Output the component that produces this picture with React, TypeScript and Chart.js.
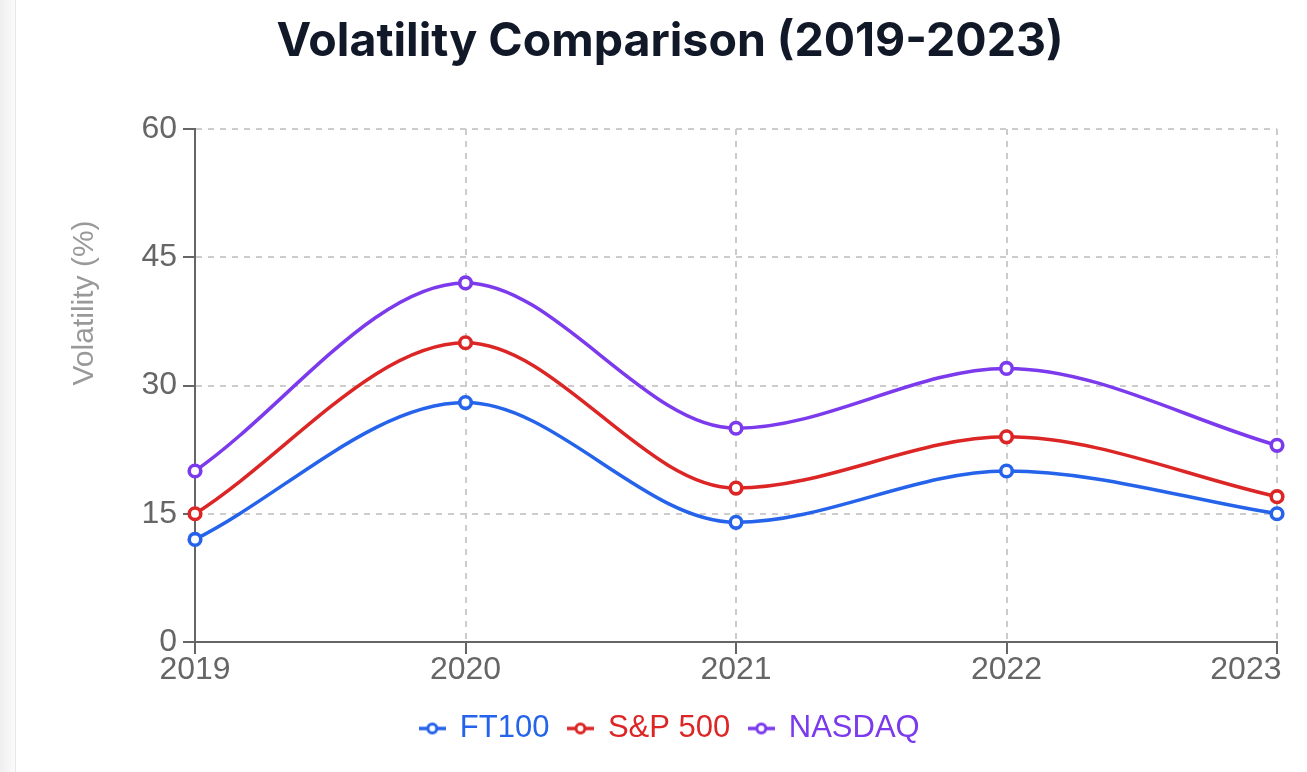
import React, { useEffect, useRef } from 'react';
import { Chart, registerables } from 'chart.js';

Chart.register(...registerables);

const YEARS = ['2019', '2020', '2021', '2022', '2023'];
const FT100 = [12, 28, 14, 20, 15];
const SP500 = [15, 35, 18, 24, 17];
const NASDAQ = [20, 42, 25, 32, 23];
const Y_TICKS = [0, 15, 30, 45, 60];
const SERIES_NAMES = ['FT100', 'S&P 500', 'NASDAQ'];
const COLORS = ['#2563eb', '#dc2626', '#7c3aed'];
const TITLE = 'Volatility Comparison (2019-2023)';
const Y_TITLE = 'Volatility (%)';

const SANS = '"Liberation Sans", Arial, Helvetica, sans-serif';

function makeLegendIcon(color: string): HTMLCanvasElement {
  const c = document.createElement('canvas');
  c.width = 27;
  c.height = 14;
  const ctx = c.getContext('2d')!;
  ctx.strokeStyle = color;
  ctx.lineWidth = 3.5;
  ctx.beginPath();
  ctx.moveTo(0, 7);
  ctx.lineTo(27, 7);
  ctx.stroke();
  ctx.beginPath();
  ctx.arc(13.5, 7, 4.5, 0, Math.PI * 2);
  ctx.fillStyle = '#ffffff';
  ctx.fill();
  ctx.lineWidth = 3;
  ctx.stroke();
  return c;
}

const yTitlePlugin = {
  id: 'yTitleStart',
  afterDraw(chart: any) {
    const { ctx, chartArea } = chart;
    ctx.save();
    ctx.translate(chartArea.left - 102, (chartArea.top + chartArea.bottom) / 2);
    ctx.rotate(-Math.PI / 2);
    ctx.font = `30px ${SANS}`;
    ctx.fillStyle = '#999999';
    ctx.textAlign = 'left';
    ctx.textBaseline = 'alphabetic';
    ctx.fillText(Y_TITLE, 0, 0);
    ctx.restore();
  },
};

export default function App() {
  const ref = useRef<HTMLCanvasElement | null>(null);

  useEffect(() => {
    if (!ref.current) return;
    const seriesValues = [FT100, SP500, NASDAQ];
    const icons = COLORS.map(makeLegendIcon);
    const gridOpts = {
      display: true,
      color: '#cccccc',
      lineWidth: 2,
      drawTicks: true,
      tickLength: 12,
      tickColor: '#666666',
      tickWidth: 2,
      tickBorderDash: [],
    };
    const chart = new Chart(ref.current, {
      type: 'line',
      data: {
        labels: YEARS,
        datasets: seriesValues.map((vals, i) => ({
          label: SERIES_NAMES[i],
          data: vals,
          borderColor: COLORS[i],
          backgroundColor: COLORS[i],
          borderWidth: 3.5,
          cubicInterpolationMode: 'monotone' as const,
          pointRadius: 5.8,
          pointBorderWidth: 3.6,
          pointBackgroundColor: '#ffffff',
          pointBorderColor: COLORS[i],
          pointHoverRadius: 5.8,
          fill: false,
          clip: false as any,
        })),
      },
      options: {
        responsive: false,
        animation: false,
        events: [],
        layout: { padding: { top: 0, left: 30, right: 30, bottom: 18 } },
        plugins: {
          tooltip: { enabled: false },
          title: {
            display: true,
            text: TITLE,
            color: '#111827',
            font: { family: 'Inter, "Liberation Sans", sans-serif', size: 46.5, weight: 'bold', lineHeight: 1.2 },
            padding: { top: 14, bottom: 59.2 },
          },
          legend: {
            display: true,
            position: 'bottom',
            title: { display: true, text: ' ', font: { size: 8, lineHeight: 1 }, padding: 0 },
            labels: {
              usePointStyle: true,
              pointStyleWidth: 24,
              padding: 19,
              font: { family: SANS, size: 31 },
              generateLabels: (ch: any) =>
                ch.data.datasets.map((ds: any, i: number) => ({
                  text: ds.label,
                  fillStyle: ds.borderColor,
                  strokeStyle: ds.borderColor,
                  fontColor: ds.borderColor,
                  lineWidth: 0,
                  pointStyle: icons[i],
                  hidden: false,
                  datasetIndex: i,
                })),
            },
          },
        },
        scales: {
          x: {
            type: 'category',
            offset: false,
            grid: gridOpts,
            border: { display: true, color: '#666666', width: 2, dash: [6, 6] },
            ticks: {
              color: '#666666',
              font: { family: SANS, size: 32, lineHeight: 1 },
              padding: 0,
              maxRotation: 0,
              minRotation: 0,
              autoSkip: false,
              callback: (_v: any, i: number) =>
                i === YEARS.length - 1 ? YEARS[i] + '       ' : YEARS[i],
            },
            afterFit: (s: any) => {
              s.paddingRight = 0;
              s.paddingLeft = 0;
            },
          },
          y: {
            min: 0,
            max: 60,
            afterBuildTicks: (s: any) => {
              s.ticks = Y_TICKS.map((v) => ({ value: v }));
            },
            grid: gridOpts,
            border: { display: true, color: '#666666', width: 2, dash: [6, 6] },
            ticks: {
              color: '#666666',
              font: { family: SANS, size: 32, lineHeight: 1 },
              padding: 6,
            },
            afterFit: (s: any) => {
              s.width = 132;
              s.paddingTop = 0;
              s.paddingBottom = 0;
            },
          },
        },
      } as any,
      plugins: [yTitlePlugin],
    });
    return () => chart.destroy();
  }, []);

  return (
    <div style={{ position: 'fixed', inset: 0, background: '#ffffff', overflow: 'hidden' }}>
      <div
        style={{
          position: 'absolute',
          left: 0,
          top: 0,
          bottom: 0,
          width: 15,
          background: 'linear-gradient(to right, #efefef, #fbfbfb)',
          borderRight: '1.5px solid #e5e7eb',
        }}
      />
      <div style={{ position: 'absolute', left: 33, top: 0, width: 1274, height: 772 }}>
        <canvas ref={ref} width={1274} height={772} style={{ display: 'block' }} />
      </div>
    </div>
  );
}
